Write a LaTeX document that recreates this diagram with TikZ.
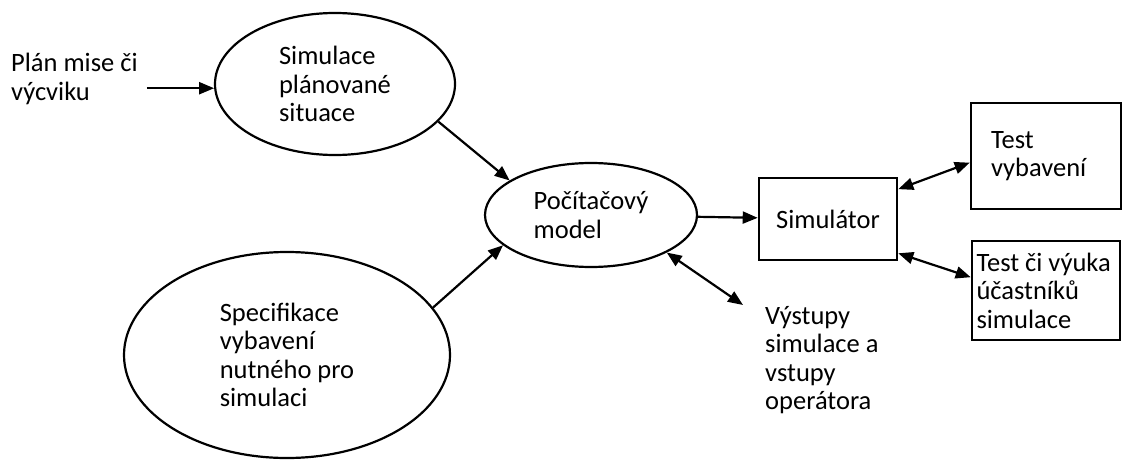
\documentclass[tikz,border=0pt]{standalone}
\usepackage{fontspec}
\setmainfont{Carlito}
\usetikzlibrary{arrows.meta,shapes.geometric}

\tikzset{
  bubble/.style={draw,ellipse,line width=2.2pt,align=flush left,inner sep=0pt},
  block/.style={draw,rectangle,line width=2.6pt,align=flush left},
  label/.style={inner sep=0pt,align=flush left,anchor=north west},
  flow/.style={line width=2.2pt}
}

\begin{document}
\begin{tikzpicture}[x=1pt,y=-1pt,font=\fontsize{26.5pt}{28.5pt}\selectfont,
  >={Triangle[length=15pt,width=12pt]}]
\useasboundingbox (0,0) rectangle (1123,460);

% ellipses
\node [bubble,minimum width=240pt,minimum height=142pt] (sit) at (335,84) {Simulace\\plánované\\situace};
\node [bubble,minimum width=212pt,minimum height=104pt] (model) at (591,215) {Počítačový\\model};
\node [bubble,minimum width=326pt,minimum height=206pt] (spec) at (287,355) {Specifikace\\vybavení\\nutného pro\\simulaci};

% boxes
\node [block,minimum width=138pt,minimum height=82pt] (sim) at (828,219) {Simulátor};
\node [block,text width=110pt,inner xsep=20pt,minimum height=106pt] (equip) at (1046,156) {Test\\vybavení};
\node [block,text width=139pt,inner xsep=4.5pt,minimum height=99pt] (train) at (1046,290.5) {Test či výuka\\účastníků\\simulace};

% free texts
\node [label] (plan) at (11,53) {Plán mise či\\výcviku};
\node [label] (out) at (765,306) {Výstupy\\simulace a\\vstupy\\operátora};

% arrows
\draw [flow,->,shorten <=9pt] (plan.east |- sit.182) -- (sit.182);
\draw [flow,->] (sit.-20) -- (model.157);
\draw [flow,->] (spec.18) -- (model.199);
\draw [flow,->] (model) -- (sim);
\draw [flow,<->] (model.south east) -- ([xshift=-22pt,yshift=1pt]out.north west);
\draw [flow,<->] (sim.23) -- (equip.185);
\draw [flow,<->] (sim.-26) -- (train.170);
\end{tikzpicture}
\end{document}
